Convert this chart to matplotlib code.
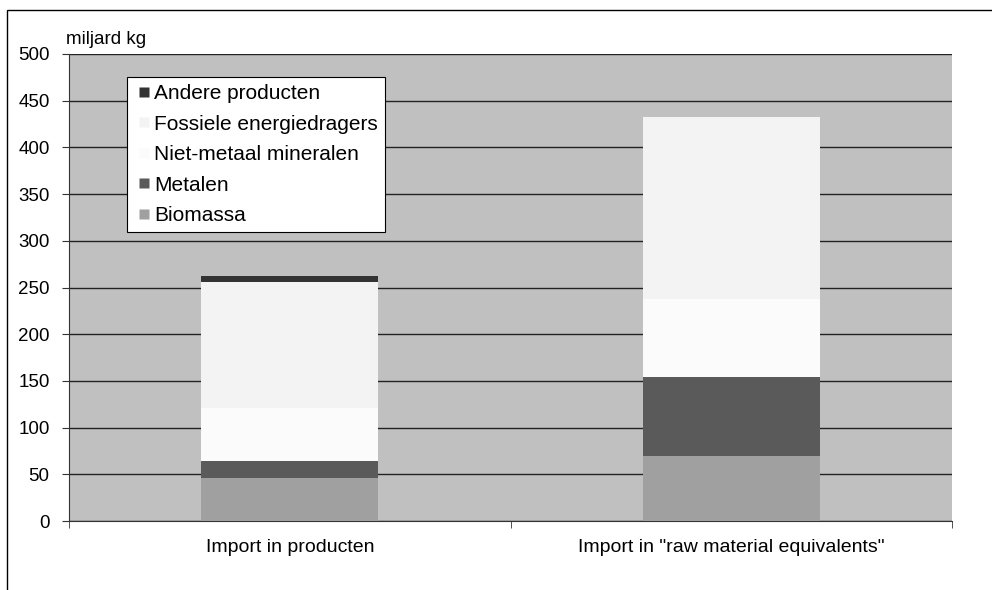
import matplotlib.pyplot as plt
import numpy as np
from matplotlib.patches import Rectangle
from matplotlib.lines import Line2D

plt.rcParams['font.family'] = ['Liberation Sans', 'DejaVu Sans']

categories = ['Import in producten', 'Import in "raw material equivalents"']
series_names = ['Biomassa', 'Metalen', 'Niet-metaal mineralen',
                'Fossiele energiedragers', 'Andere producten']
biomassa = [46, 70]
metalen = [18, 84]
niet_metaal = [57, 84]
fossiel = [135, 195]
andere = [6.5, 0]
series = [biomassa, metalen, niet_metaal, fossiel, andere]
colors = ['#a0a0a0', '#5a5a5a', '#fbfbfb', '#f3f3f3', '#333333']
yticks = list(range(0, 501, 50))

fig = plt.figure(figsize=(9.92, 5.9), dpi=100)
ax = fig.add_axes([69/992, 69/590, 883/992, 467/590])
ax.set_facecolor('#c0c0c0')

# outer chart border, only top and left edges fall inside the picture
fig.patches.append(Rectangle((7/992, -0.1), 1.2, (580 + 59)/590, transform=fig.transFigure,
                             fill=False, edgecolor='black', linewidth=1))

x = np.arange(len(categories))
bottom = np.zeros(len(categories))
for vals, col, name in zip(series, colors, series_names):
    ax.bar(x, vals, width=0.4, bottom=bottom, color=col, label=name, zorder=3)
    bottom += np.array(vals)

ax.set_xlim(-0.5, 1.5)
ax.set_ylim(0, 500)
ax.set_yticks(yticks)
ax.set_yticklabels([str(v) for v in yticks], fontsize=13.5)
ax.yaxis.grid(True, color='#222222', linewidth=1, zorder=1)
ax.set_axisbelow(True)

ax.set_xticks(x)
ax.set_xticklabels(categories, fontsize=14)
ax.tick_params(axis='x', length=0, pad=13)
ax.set_xticks([-0.5, 0.5, 1.5], minor=True)
ax.tick_params(axis='x', which='minor', length=5, color='#333333')
ax.tick_params(axis='y', length=5, color='#333333', pad=9)

for s in ['top', 'right']:
    ax.spines[s].set_visible(False)
ax.spines['left'].set_color('#333333')
ax.spines['bottom'].set_color('#333333')

fig.text(66/992, 1 - 40/590, 'miljard kg', fontsize=13.5, va='center', ha='left')

handles = [Line2D([], [], marker='s', linestyle='none', markersize=7.5,
                  markerfacecolor=c, markeredgecolor='none') for c in colors]
leg = ax.legend(handles[::-1], series_names[::-1], loc='upper left',
                bbox_to_anchor=((127 - 69)/883, (521 - 77)/467), borderaxespad=0,
                fancybox=False, framealpha=1, edgecolor='black', fontsize=15,
                handletextpad=0.05, handlelength=0.9, labelspacing=0.55,
                borderpad=0.35)
leg.get_frame().set_linewidth(0.8)
leg.set_zorder(5)

fig.savefig('out.png', dpi=100)
